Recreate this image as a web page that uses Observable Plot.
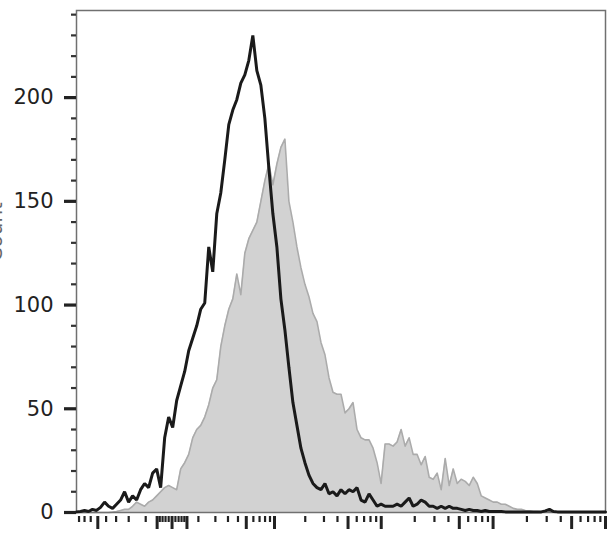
<!DOCTYPE html>
<html><head><meta charset="utf-8">
<script src="https://cdn.jsdelivr.net/npm/d3@7"></script>
<script src="https://cdn.jsdelivr.net/npm/@observablehq/plot@0.6"></script>
<style>body{margin:0;background:#fff;}</style>
</head><body><div id="chart"></div>
<script>
// Histogram counts sampled at evenly spaced display channels (0..132) across the axis
const blackCounts = [0.3,0.5,1,0.5,1.5,1,2.5,5,3,2,4,6,10,5,8,6,11,14,12,19,21,12,36,46,41,54,61,68,78,84,90,98,101,128,116,144,154,170,187,194,199,207,211,218,230,213,206,190,166,144,128,103,88,70,53,42,31,24,18,14,12,11,14,9,10,8,11,9,11,10,12,6,5,9,6,3,4,3,3,3,4,3,5,7,3,4,6,5,3,3,2,3,2,3,2,2,1.5,1,1.5,1,1,0.5,1,0.5,0.5,0.5,0.5,0.3,0.3,0.3,0.3,0.3,0.3,0.3,0.3,0.3,0.3,0.8,1.5,0.5,0.3,0.3,0.3,0.3,0.3,0.3,0.3,0.3,0.3,0.3,0.3,0.3,0.3];
const grayCounts = [0,0,0,0,0,0,0,0,0,0.2,0.5,1,1.5,1.5,3,5,4,3,5,6,8,10,12,13,12,11,21,24,28,36,40,42,46,52,60,64,80,90,98,103,115,105,125,132,136,140,150,160,168,158,168,176,180,150,140,128,118,110,104,96,92,82,76,65,58,57,57,48,50,53,40,36,35,35,31,24,14,33,33,32,34,40,32,36,28,28,23,27,17,16,19,11,26,13,21,14,16,15,13,17,14,8,7,6,5,5,4,4,3,2,1.5,1.5,1,0.8,0.5,0.4,0.3,0.2,0.2,0.2,0.2,0.2,0.2,0.2,0.2,0.2,0.2,0.2,0.2,0.2,0.2,0.2,0.2];
const xDomain = [-85, 100000];
const xMajorTicks = [-50, 0, 5, -5, 50, 100, 500, 1000, 5000, 10000, 50000, 100000];
const xMinorTicks = [-80,-70,-60,-40,-30,-20,-10,-4,-3,-2,-1,1,2,3,4,10,20,30,40,60,70,80,90,200,300,400,600,700,800,900,2000,3000,4000,6000,7000,8000,9000,20000,30000,40000,60000,70000,80000,90000];
const yMajorTicks = [0, 50, 100, 150, 200];
const yMinorTicks = [10,20,30,40,60,70,80,90,110,120,130,140,160,170,180,190,210,220,230,240];
const yLabel = "Count";

const nBins = blackCounts.length - 1;
const xScaleOpts = {type: "symlog", constant: 14, domain: xDomain};
const binScale = Plot.scale({x: {...xScaleOpts, range: [0, nBins]}});
const rows = blackCounts.map((c, i) => ({v: binScale.invert(i), black: c, gray: grayCounts[i]}));

const chart = Plot.plot({
  width: 608, height: 545,
  marginLeft: 76, marginRight: 3, marginTop: 10, marginBottom: 33,
  style: {fontFamily: "DejaVu Sans", fontSize: "21px", color: "#222", background: "#fff"},
  x: {...xScaleOpts},
  y: {domain: [0, 242]},
  marks: [
    Plot.areaY(rows, {x: "v", y: "gray", fill: "#d2d2d2"}),
    Plot.lineY(rows, {x: "v", y: "gray", stroke: "#ababab", strokeWidth: 1.6}),
    Plot.frame({stroke: "#707070", strokeWidth: 1.5}),
    Plot.lineY(rows, {x: "v", y: "black", stroke: "#1a1a1a", strokeWidth: 3, strokeLinejoin: "miter"}),
    Plot.axisY(yMajorTicks, {tickSize: 12, strokeWidth: 3.2, tickPadding: 11, label: null, stroke: "#222", fill: "#222"}),
    Plot.axisY(yMinorTicks, {tickSize: 5, strokeWidth: 2.2, fill: "none", label: null, stroke: "#333"}),
    Plot.axisX(xMajorTicks, {tickSize: 13, strokeWidth: 3, fill: "none", label: null, stroke: "#222", dy: 4}),
    Plot.axisX(xMinorTicks, {tickSize: 6, strokeWidth: 2.2, fill: "none", label: null, stroke: "#222", dy: 4}),
    Plot.text([yLabel], {text: d => d, frameAnchor: "left", dx: -75, rotate: -90, lineAnchor: "bottom", fontSize: 20, fill: "#666"})
  ]
});
document.getElementById("chart").append(chart);
</script>
</body></html>
